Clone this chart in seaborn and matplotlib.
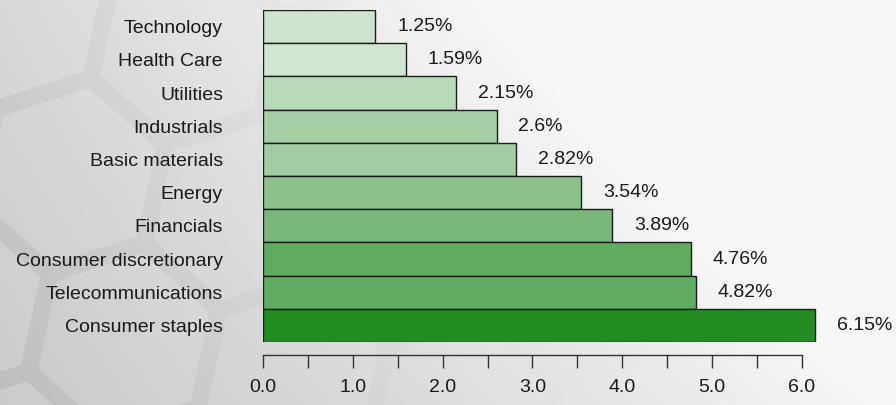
import numpy as np
import pandas as pd
import matplotlib
matplotlib.use("Agg")
import matplotlib.pyplot as plt
from matplotlib.patches import RegularPolygon
from matplotlib.ticker import FixedLocator
import seaborn as sns

# Sector weights (%)
sectors = ["Technology", "Health Care", "Utilities", "Industrials", "Basic materials",
           "Energy", "Financials", "Consumer discretionary", "Telecommunications",
           "Consumer staples"]
weights = [1.25, 1.59, 2.15, 2.6, 2.82, 3.54, 3.89, 4.76, 4.82, 6.15]
tick_values = [0, 1, 2, 3, 4, 5, 6]
tick_labels = ["0.0", "1.0", "2.0", "3.0", "4.0", "5.0", "6.0"]
minor_ticks = [0.5, 1.5, 2.5, 3.5, 4.5, 5.5]

# green shades, light for small weights to forest green for the largest
bar_colors = ["#cfe4cf", "#d1e6d1", "#b9dab9", "#a5cea5", "#a2cca2",
              "#8bc28b", "#79b879", "#5fab5f", "#60ac60", "#228b22"]

sns.set_theme(style="white")
plt.rcParams["font.family"] = ["Liberation Sans", "DejaVu Sans"]

W, H, DPI = 896, 405, 100
fig = plt.figure(figsize=(W / DPI, H / DPI), dpi=DPI)

# ---- backdrop: grey gradient with a faint honeycomb ----
bg = fig.add_axes([0, 0, 1, 1], zorder=-5)
bg.set_xlim(0, W)
bg.set_ylim(H, 0)
bg.axis("off")
xx, yy = np.meshgrid(np.linspace(0, 1, 300), np.linspace(0, 1, 140))
shade = np.clip(0.74 + 0.23 * xx + 0.07 * (1 - yy) + 0.06 * xx * (1 - yy), 0, 0.965)
bg.imshow(shade, cmap="gray", vmin=0, vmax=1, extent=(0, W, H, 0),
          aspect="auto", interpolation="bilinear", zorder=0)

r = 100
dx = np.sqrt(3) * r
rot = np.deg2rad(12)
for row in range(-2, 6):
    for col in range(-2, 9):
        cx = col * dx + (dx / 2 if row % 2 else 0) - 40
        cy = row * 1.5 * r + 20
        px = cx * np.cos(rot) - cy * np.sin(rot) + 60
        py = cx * np.sin(rot) + cy * np.cos(rot)
        if px < -150 or px > W + 150 or py < -150 or py > H + 150:
            continue
        fade = max(0.0, 1 - max(px, 0) / 800)
        if fade <= 0:
            continue
        hexa = RegularPolygon((px, py), numVertices=6, radius=r - 10,
                              orientation=rot, facecolor="white",
                              edgecolor="none", alpha=0.22 * fade, zorder=1)
        bg.add_patch(hexa)

# ---- bar chart ----
ax = fig.add_axes([263 / W, 63 / H, 628.8 / W, 332 / H])
ax.patch.set_alpha(0)

df = pd.DataFrame({"sector": sectors, "weight": weights})
sns.barplot(data=df, x="weight", y="sector", hue="sector", palette=bar_colors,
            orient="h", width=1.0, saturation=1, edgecolor="#1c1c1c",
            linewidth=1.0, legend=False, ax=ax)

ax.set_xlim(0, 7)
ax.set_ylim(len(sectors) - 0.5, -0.5)

for i, v in enumerate(weights):
    ax.annotate(f"{v:g}%", xy=(v, i), xytext=(15.8, 0), textcoords="offset points",
                ha="left", va="center", fontsize=14, color="#1a1a1a",
                annotation_clip=False)

for s in ("left", "top", "right"):
    ax.spines[s].set_visible(False)
ax.spines["bottom"].set_position(("outward", 9.4))
ax.spines["bottom"].set_bounds(0, 6)
ax.spines["bottom"].set_color("#333333")
ax.spines["bottom"].set_linewidth(1.0)

ax.xaxis.set_major_locator(FixedLocator(tick_values))
ax.set_xticklabels(tick_labels)
ax.xaxis.set_minor_locator(FixedLocator(minor_ticks))
ax.tick_params(axis="x", which="both", direction="out", length=9.4, width=1.0,
               color="#333333", bottom=True)
ax.tick_params(axis="x", which="major", labelsize=14, labelcolor="#1a1a1a", pad=8)
ax.tick_params(axis="y", length=0, pad=28.8, labelsize=14, labelcolor="#1a1a1a")
ax.set_xlabel("")
ax.set_ylabel("")

fig.savefig("out.png", dpi=DPI)
